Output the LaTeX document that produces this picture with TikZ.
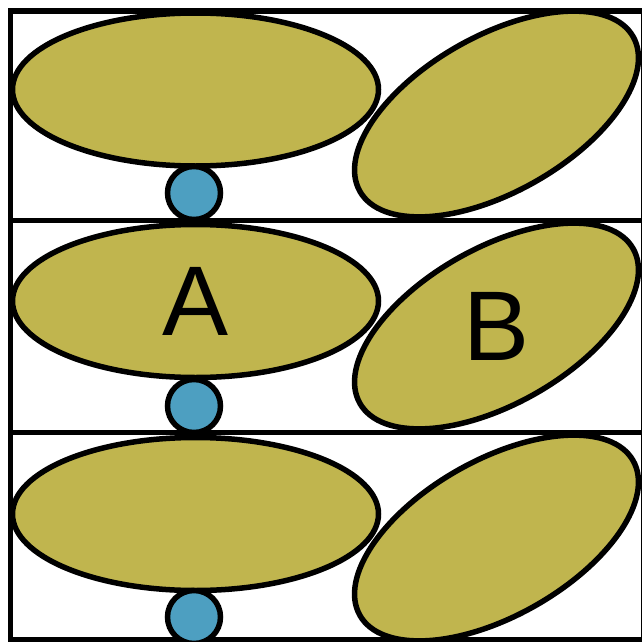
\documentclass[tikz,border=0pt]{standalone}
\usepackage{fontspec}
\setmainfont{Liberation Sans}
\usetikzlibrary{shapes.geometric}
\definecolor{olivefill}{RGB}{192,181,78}
\definecolor{beadblue}{RGB}{77,159,193}
\begin{document}
\begin{tikzpicture}[x=1pt,y=-1pt,
  rule/.style={line width=5.5pt, draw=black},
  flatblob/.style={ellipse, draw=black, line width=5.5pt, fill=olivefill, inner sep=0pt,
    minimum width=366pt, minimum height=153pt},
  tiltblob/.style={ellipse, draw=black, line width=5.5pt, fill=olivefill, inner sep=0pt,
    minimum width=314pt, minimum height=156pt, rotate=29.5},
  bead/.style={circle, draw=black, line width=5.5pt, fill=beadblue, inner sep=0pt,
    minimum size=53pt},
  letter/.style={inner sep=0pt, font=\fontsize{99}{100}\selectfont}]
\useasboundingbox (0,0) rectangle (642,642);

% outer frame and the two dividers
\coordinate (tl) at (10.5,11);
\coordinate (br) at (644,639.5);
\draw[rule] (tl) rectangle (br);
\coordinate (d1l) at (10.5,220.5);
\coordinate (d1r) at (644,220.5);
\coordinate (d2l) at (10.5,432.5);
\coordinate (d2r) at (644,432.5);
\draw[rule] (d1l) -- (d1r);
\draw[rule] (d2l) -- (d2r);

% left column: flat ellipses
\node[flatblob] (a1) at (195.5,89.5) {};
\node[flatblob] (a2) at (195.5,301) {};
\node[flatblob] (a3) at (195.5,514) {};

% right column: tilted ellipses
\node[tiltblob] (b1) at (496.5,114) {};
\node[tiltblob] (b2) at (496.5,326) {};
\node[tiltblob] (b3) at (496.5,538) {};

% small beads under the flat ellipses
\node[bead] (c1) at (194,193) {};
\node[bead] (c2) at (194,406) {};
\node[bead] (c3) at (194,617) {};

% labels
\node[letter] (la) at (a2.center) {A};
\node[letter] (lb) at (b2.center) {B};
\end{tikzpicture}
\end{document}
